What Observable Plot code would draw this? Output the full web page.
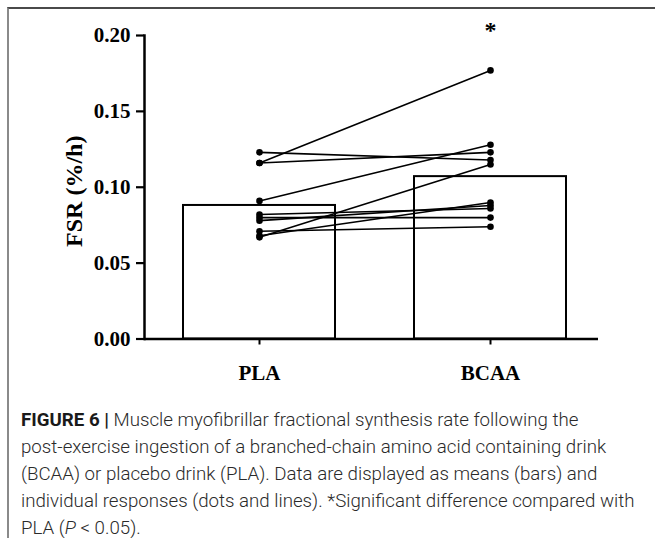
<!DOCTYPE html>
<html>
<head>
<meta charset="utf-8">
<script src="https://cdn.jsdelivr.net/npm/d3@7"></script>
<script src="https://cdn.jsdelivr.net/npm/@observablehq/plot@0.6"></script>
<style>
  html, body { margin: 0; padding: 0; background: #fff; width: 655px; height: 538px; overflow: hidden; }
  #frame { position: absolute; left: 7px; top: 7px; width: 700px; height: 560px;
           border-top: 2px solid #4a4a4a; border-left: 2px solid #8a8a8a; }
  #chart svg { display: block; }
  #caption { position: absolute; left: 12px; top: 398px; font-family: "Roboto", "Liberation Sans", sans-serif;
             font-weight: 300; font-size: 18.7px; line-height: 27px; color: #2a2a2a; white-space: nowrap; }
  #caption b { color: #1a1a1a; font-weight: 700; }
</style>
</head>
<body>
<div id="frame">
  <div id="chart"></div>
  <div id="caption">
    <div><b>FIGURE 6 |</b> Muscle myofibrillar fractional synthesis rate following the</div>
    <div>post-exercise ingestion of a branched-chain amino acid containing drink</div>
    <div>(BCAA) or placebo drink (PLA). Data are displayed as means (bars) and</div>
    <div>individual responses (dots and lines). *Significant difference compared with</div>
    <div>PLA (<i>P</i> &lt; 0.05).</div>
  </div>
</div>
<script>
// ---- data ----
const groups = ["PLA", "BCAA"];
const meanFSR = [0.088, 0.107];
const subjects = ["S1","S2","S3","S4","S5","S6","S7","S8","S9","S10"];
const plaFSR  = [0.123, 0.116, 0.116, 0.091, 0.082, 0.080, 0.078, 0.071, 0.068, 0.067];
const bcaaFSR = [0.118, 0.123, 0.177, 0.128, 0.086, 0.080, 0.088, 0.074, 0.090, 0.115];
const yTicks = [0, 0.05, 0.10, 0.15, 0.20];
const yLabel = "FSR (%/h)";
const sigMarks = [{group: "BCAA", mark: "*"}];

// tables built from the arrays
const bars = groups.map((g, i) => ({group: g, mean: meanFSR[i]}));
const indiv = subjects.flatMap((s, i) => [
  {subject: s, group: "PLA", fsr: plaFSR[i]},
  {subject: s, group: "BCAA", fsr: bcaaFSR[i]}
]);

const chart = Plot.plot({
  width: 640,
  height: 380,
  marginLeft: 135,
  marginRight: 51,
  marginTop: 26,
  marginBottom: 50.5,
  style: {fontFamily: "'Liberation Serif', 'Times New Roman', serif", fontWeight: "bold", fontSize: "21px", color: "#000", background: "transparent"},
  x: {type: "band", domain: groups, range: [139, 593], paddingInner: 0.34, paddingOuter: 0.15, label: null},
  y: {domain: [0, 0.2], label: null},
  marks: [
    Plot.barY(bars, {x: "group", y: "mean", fill: "white", stroke: "black", strokeWidth: 2}),
    Plot.line(indiv, {x: "group", y: "fsr", z: "subject", stroke: "black", strokeWidth: 1.6}),
    Plot.dot(indiv, {x: "group", y: "fsr", r: 3.3, fill: "black", stroke: "none"}),
    Plot.axisY({ticks: yTicks, tickFormat: d3.format(".2f"), tickSize: 8, tickPadding: 6, strokeWidth: 2.2, label: null}),
    Plot.axisX({tickSize: 6, tickPadding: 20, strokeWidth: 2, label: null}),
    Plot.frame({anchor: "left", strokeWidth: 2.5}),
    Plot.ruleY([0], {strokeWidth: 2.5}),
    Plot.text([yLabel], {frameAnchor: "left", textAnchor: "middle", rotate: -90, dx: -70, dy: 4, fontSize: 24, fontWeight: "bold"}),
    Plot.text(sigMarks, {x: "group", text: "mark", frameAnchor: "top", dy: -15, fontSize: 24, fontWeight: "bold"})
  ]
});
document.getElementById("chart").appendChild(chart);
</script>
</body>
</html>
